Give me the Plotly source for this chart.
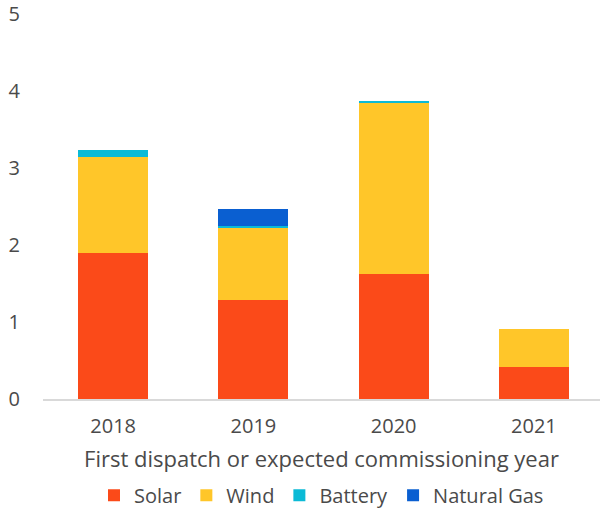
import plotly.graph_objects as go

# Capacity by first dispatch / expected commissioning year
years = ["2018", "2019", "2020", "2021"]
solar = [1.90, 1.29, 1.62, 0.41]
wind = [1.245, 0.94, 2.23, 0.495]
battery = [0.09, 0.02, 0.02, 0.0]
natural_gas = [0.0, 0.22, 0.0, 0.0]

series = [
    ("Solar", solar, "#FB4A19"),
    ("Wind", wind, "#FFC629"),
    ("Battery", battery, "#0BBAD6"),
    ("Natural Gas", natural_gas, "#0A5FD1"),
]

fig = go.Figure()
for name, vals, color in series:
    fig.add_trace(go.Bar(
        x=years, y=vals, name=name,
        marker=dict(color=color, line=dict(width=0)),
    ))

font_family = "Open Sans"
text_color = "#4a4a4a"

fig.update_layout(
    barmode="stack",
    bargap=0.5,
    width=600, height=509,
    margin=dict(l=43, r=0, t=14, b=110, autoexpand=False),
    paper_bgcolor="white",
    plot_bgcolor="white",
    font=dict(family=font_family, size=20, color=text_color),
    showlegend=True,
    legend=dict(
        orientation="h", x=0.5, xanchor="center",
        y=-0.25, yanchor="middle",
        traceorder="normal",
        font=dict(size=20, color=text_color),
        itemwidth=30, tracegroupgap=0,
    ),
    xaxis=dict(
        type="category",
        range=[-0.5, 3.471],
        automargin=False,
        showgrid=False,
        showline=True, linecolor="#d9d9d9", linewidth=2,
        ticks="outside", ticklen=8, tickcolor="rgba(0,0,0,0)",
        tickfont=dict(size=20, color=text_color),
        title=dict(text="First dispatch or expected commissioning year",
                   font=dict(size=22, color=text_color), standoff=14),
    ),
    yaxis=dict(
        range=[0, 5],
        dtick=1,
        automargin=False,
        showgrid=False,
        zeroline=False,
        showline=False,
        ticks="outside", ticklen=18, tickcolor="rgba(0,0,0,0)",
        tickfont=dict(size=20, color=text_color),
    ),
)

fig.write_html("out.html")
